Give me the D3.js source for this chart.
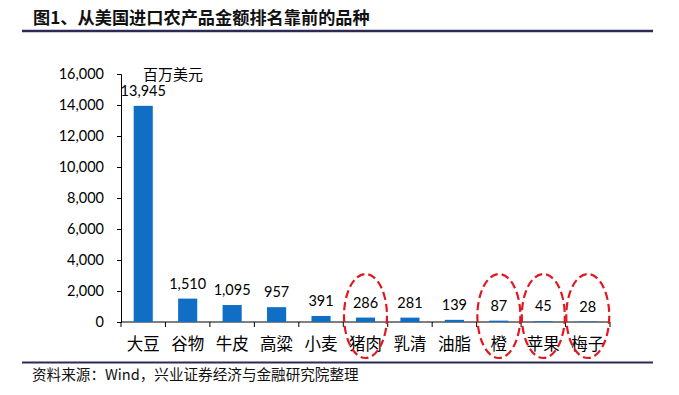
<!DOCTYPE html>
<html>
<head>
<meta charset="utf-8">
<script src="https://cdn.jsdelivr.net/npm/d3@7"></script>
<style>
  body { margin: 0; background: #fff; }
  svg { display: block; }
  .num { font-family: Lato, "Open Sans", sans-serif; }
  .cjk { font-family: "Noto Sans CJK SC", sans-serif; }
</style>
</head>
<body>
<svg></svg>
<script>
// data
var categories = ['大豆', '谷物', '牛皮', '高粱', '小麦', '猪肉', '乳清', '油脂', '橙', '苹果', '梅子'];
var values = [13945, 1510, 1095, 957, 391, 286, 281, 139, 87, 45, 28];
var yTicks = [0, 2000, 4000, 6000, 8000, 10000, 12000, 14000, 16000];
var circled = ['猪肉', '橙', '苹果', '梅子'];

var width = 679, height = 395;
var margin = { top: 74, left: 121, right: 69, bottom: 73 },
    chartWidth = width - margin.left - margin.right,
    chartHeight = height - margin.top - margin.bottom;

var svg = d3.select('svg')
    .attr('width', width)
    .attr('height', height);

// title + rules
svg.append('text')
    .attr('class', 'cjk')
    .attr('x', 33)
    .attr('y', 24)
    .attr('font-size', 17.2)
    .attr('font-weight', 700)
    .attr('fill', '#111')
    .text('图1、从美国进口农产品金额排名靠前的品种');

svg.append('line')
    .attr('x1', 22).attr('x2', 653)
    .attr('y1', 31).attr('y2', 31)
    .attr('stroke', '#2c2a58')
    .attr('stroke-width', 2.5);

svg.append('line')
    .attr('x1', 22).attr('x2', 653)
    .attr('y1', 362.5).attr('y2', 362.5)
    .attr('stroke', '#2c2a58')
    .attr('stroke-width', 2);

svg.append('text')
    .attr('class', 'cjk')
    .attr('x', 32)
    .attr('y', 380)
    .attr('font-size', 14.6)
    .attr('fill', '#111')
    .text('资料来源：Wind，兴业证券经济与金融研究院整理');

var chart = svg.append('g')
    .attr('transform', 'translate(' + margin.left + ',' + margin.top + ')');

var xScale = d3.scaleBand()
    .domain(categories)
    .range([0, chartWidth])
    .paddingInner(0.57)
    .paddingOuter(0.285);

var yScale = d3.scaleLinear()
    .domain([0, 16000])
    .range([chartHeight, 0]);

// y axis
var yAxis = chart.append('g')
    .call(d3.axisLeft(yScale)
      .tickValues(yTicks)
      .tickFormat(d3.format(','))
      .tickSize(4)
      .tickPadding(13));
yAxis.select('.domain').attr('stroke', '#000');
yAxis.selectAll('.tick line').attr('stroke', '#000');
yAxis.selectAll('text')
    .attr('class', 'num')
    .attr('font-size', 14.5)
    .attr('fill', '#000');

// x axis: ticks sit on the category boundaries
var step = xScale.step();
var xAxis = chart.append('g')
    .attr('transform', 'translate(0,' + chartHeight + ')');
xAxis.append('line')
    .attr('x1', 0).attr('x2', chartWidth)
    .attr('stroke', '#000');
xAxis.selectAll('.xtick')
    .data(d3.range(categories.length + 1))
    .enter().append('line')
    .attr('x1', function(i) { return i * step; })
    .attr('x2', function(i) { return i * step; })
    .attr('y1', 0).attr('y2', 5)
    .attr('stroke', '#000');
xAxis.selectAll('.xlabel')
    .data(categories)
    .enter().append('text')
    .attr('class', 'cjk')
    .attr('x', function(d) { return xScale(d) + xScale.bandwidth() / 2; })
    .attr('y', 28)
    .attr('text-anchor', 'middle')
    .attr('font-size', 16.5)
    .attr('fill', '#000')
    .text(function(d) { return d; });

// unit label
chart.append('text')
    .attr('class', 'cjk')
    .attr('x', 22)
    .attr('y', 6)
    .attr('font-size', 15)
    .attr('fill', '#000')
    .text('百万美元');

// bars
chart.selectAll('.bar')
    .data(values)
    .enter().append('rect')
    .attr('class', 'bar')
    .attr('x', function(d, i) { return xScale(categories[i]); })
    .attr('width', xScale.bandwidth())
    .attr('y', function(d) { return yScale(d); })
    .attr('height', function(d) { return chartHeight - yScale(d); })
    .attr('fill', '#106fc4');

chart.selectAll('.val')
    .data(values)
    .enter().append('text')
    .attr('class', 'num')
    .attr('x', function(d, i) { return xScale(categories[i]) + xScale.bandwidth() / 2; })
    .attr('y', function(d) { return yScale(d) - 10; })
    .attr('text-anchor', 'middle')
    .attr('font-size', 14.5)
    .attr('fill', '#000')
    .text(function(d) { return d3.format(',')(d); });

// red dashed ellipses round the picked items
chart.selectAll('.ring')
    .data(circled)
    .enter().append('ellipse')
    .attr('cx', function(d) { return xScale(d) + xScale.bandwidth() / 2; })
    .attr('cy', chartHeight - 6)
    .attr('rx', 21.5)
    .attr('ry', 42)
    .attr('fill', 'none')
    .attr('stroke', '#e3171f')
    .attr('stroke-width', 2.2)
    .attr('stroke-dasharray', '8,4');
</script>
</body>
</html>
